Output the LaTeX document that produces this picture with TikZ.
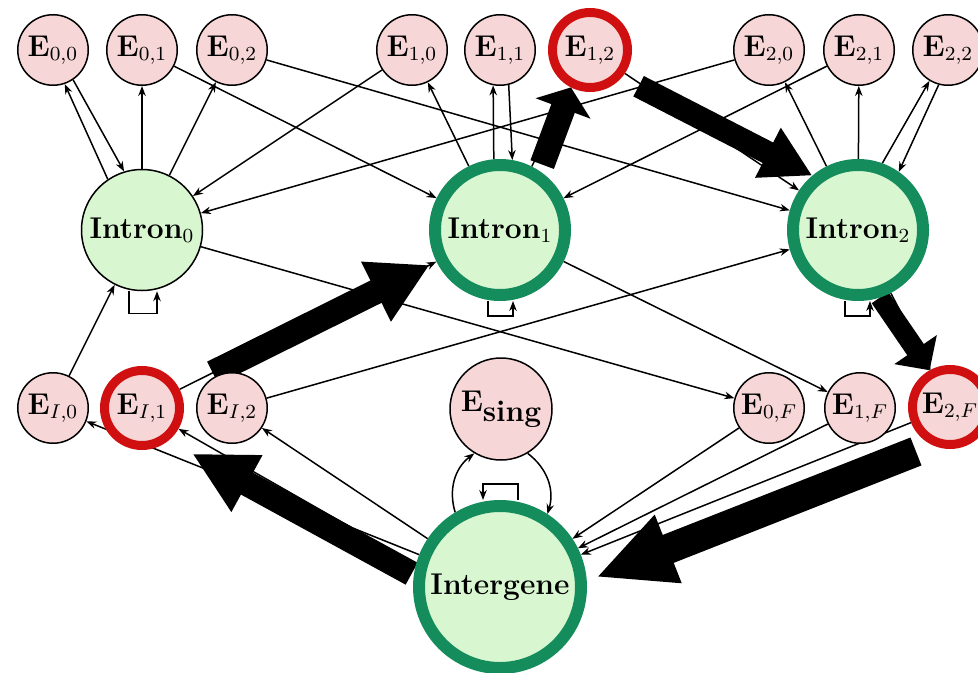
\documentclass[tikz,border=0pt]{standalone}
\usetikzlibrary{arrows.meta,backgrounds}
\definecolor{pinkfill}{RGB}{246,214,214}
\definecolor{greenfill}{RGB}{216,246,208}
\definecolor{ringgreen}{RGB}{20,140,92}
\definecolor{ringred}{RGB}{208,16,16}
\begin{document}
\begin{tikzpicture}[x=0.4pt,y=-0.4pt,
  every node/.style={font=\fontsize{12}{14}\selectfont},
  enode/.style={circle,draw=black,line width=0.6pt,fill=pinkfill,minimum size=28.2pt,inner sep=0pt},
  ered/.style={enode,draw=ringred,line width=3.6pt,minimum size=30pt},
  inode/.style={circle,draw=black,line width=0.6pt,fill=greenfill,minimum size=48.4pt,inner sep=0pt},
  igreen/.style={inode,draw=ringgreen,line width=4.8pt,minimum size=52pt},
  arr/.style={line width=0.6pt,-{Stealth[length=4pt,width=3pt]}},
  big/.style={line width=10pt,-{Triangle[length=24pt,width=25pt]}},
]
\useasboundingbox (0,0) rectangle (978,672);
% top row
\node[enode] (e00) at (53,50) {$\mathbf{E}_{0,0}$};
\node[enode] (e01) at (142,50) {$\mathbf{E}_{0,1}$};
\node[enode] (e02) at (232,50) {$\mathbf{E}_{0,2}$};
\node[enode] (e10) at (412,50) {$\mathbf{E}_{1,0}$};
\node[enode] (e11) at (500,50) {$\mathbf{E}_{1,1}$};
\node[ered]  (e12) at (590,50) {$\mathbf{E}_{1,2}$};
\node[enode] (e20) at (769,50) {$\mathbf{E}_{2,0}$};
\node[enode] (e21) at (859,50) {$\mathbf{E}_{2,1}$};
\node[enode] (e22) at (948,50) {$\mathbf{E}_{2,2}$};
% introns
\node[inode]  (i0) at (142,230) {\textbf{Intron}$_0$};
\node[igreen] (i1) at (500,230) {\textbf{Intron}$_1$};
\node[igreen] (i2) at (858,230) {\textbf{Intron}$_2$};
% bottom row
\node[enode] (ei0) at (53,408) {$\mathbf{E}_{I,0}$};
\node[ered]  (ei1) at (142,408) {$\mathbf{E}_{I,1}$};
\node[enode] (ei2) at (232,408) {$\mathbf{E}_{I,2}$};
\node[enode,minimum size=40.8pt] (es) at (501,409) {\textbf{E}\raisebox{-4pt}{\textbf{sing}}};
\node[enode] (e0f) at (769,408) {$\mathbf{E}_{0,F}$};
\node[enode] (e1f) at (860,408) {$\mathbf{E}_{1,F}$};
\node[ered]  (e2f) at (950,407) {$\mathbf{E}_{2,F}$};
\node[igreen,minimum size=64.8pt] (ig) at (500,587) {\textbf{Intergene}};

\begin{scope}[on background layer]
% thin edges
\draw[arr] (i0.124) -- (e00.-71);
\draw[arr] (e00.-56) -- (i0.107);
\draw[arr] (i0) -- (e01);
\draw[arr] (i0) -- (e02);
\draw[arr] (e01) -- (i1);
\draw[arr] (e02) -- (i2);
\draw[arr] (e10) -- (i0);
\draw[arr] (i1) -- (e10);
\draw[arr] (i1.95) -- (e11.-101);
\draw[arr] (e11.-76) -- (i1.80);
\draw[arr] (i1) -- (e12);
\draw[arr] (e12) -- (i2);
\draw[arr] (e20) -- (i0);
\draw[arr] (e21) -- (i1);
\draw[arr] (i2) -- (e20);
\draw[arr] (i2) -- (e21);
\draw[arr] (i2.70) -- (e22.-121);
\draw[arr] (e22.-105) -- (i2.55);
\draw[arr] (ei0) -- (i0);
\draw[arr] (ei1) -- (i1);
\draw[arr] (ei2) -- (i2);
\draw[arr] (i0) -- (e0f);
\draw[arr] (i1) -- (e1f);
\draw[arr] (i2) -- (e2f);
\draw[arr] (e0f) -- (ig);
\draw[arr] (e1f) -- (ig);
\draw[arr] (e2f) -- (ig);
\draw[arr] (ig) -- (ei0);
\draw[arr] (ig.165) -- (ei1);
\draw[arr] (ig) -- (ei2);
\draw[arr] (ig.121) to[bend left=35] (es.-121);
\draw[arr] (es.-59) to[bend left=35] (ig.57);
% self loops
\draw[arr] ([xshift=-5.2pt]i0.south) -- ++(0,22) -| ([xshift=6pt]i0.south);
\draw[arr] ([xshift=-4.8pt]i1.south) -- ++(0,15) -| ([xshift=5.2pt]i1.south);
\draw[arr] ([xshift=-5.2pt]i2.south) -- ++(0,15) -| ([xshift=4.8pt]i2.south);
\draw[arr] ([xshift=7.2pt]ig.north) -- ++(0,-16) -| ([xshift=-6.8pt]ig.north);
% highlighted path
\draw[big,-{Triangle[length=25pt,width=24pt]},shorten <=1pt,shorten >=10.8pt] (ig.172) -- (ei1.-51);
\draw[big,shorten <=14.8pt,shorten >=3pt] (ei1) -- (i1);
\draw[big,-{Triangle[length=9pt,width=23pt]},shorten <=2.8pt] (i1.56) -- (e12.-117);
\draw[big,line width=9.2pt,-{Triangle[length=20pt,width=21pt]},shorten <=7.6pt] (e12.-41) -- (i2.130);
\draw[big,line width=8pt,-{Triangle[length=10pt,width=20pt]}] (i2.-72) -- (e2f.119);
\draw[big,line width=12pt,-{Triangle[length=31pt,width=27pt]},shorten <=7pt,shorten >=4pt] (e2f.-115) -- (ig.4);
\end{scope}
\end{tikzpicture}
\end{document}
